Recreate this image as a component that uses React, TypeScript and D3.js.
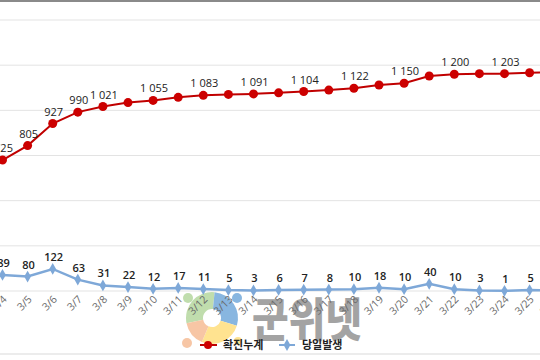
import React from "react";
import * as d3 from "d3";

const dates = ["3/4","3/5","3/6","3/7","3/8","3/9","3/10","3/11","3/12","3/13","3/14","3/15","3/16","3/17","3/18","3/19","3/20","3/21","3/22","3/23","3/24","3/25","3/26"];
const cumulative = [725,805,927,990,1021,1043,1055,1072,1083,1088,1091,1097,1104,1112,1122,1140,1150,1190,1200,1203,1203,1208,1212];
const daily = [89,80,122,63,31,22,12,17,11,5,3,6,7,8,10,18,10,40,10,3,1,5,3];
const cumLabelIdx = [0,1,2,3,4,6,8,10,12,14,16,18,20];
const yTicks = [0,250,500,750,1000,1250,1500];

const fmt = (v: number) => {
  const s = String(v);
  return s.length > 3 ? s.slice(0, s.length - 3) + " " + s.slice(-3) : s;
};

export default function App() {
  const W = 540, H = 360;
  const x = d3.scaleLinear().domain([0, 21]).range([2.5, 529.6]);
  const y = d3.scaleLinear().domain([0, 1500]).range([291, 20]);
  const line = d3.line<number>().x((_, i) => x(i)).y((d) => y(d));
  const redC = "#c00000";
  const blueC = "#7ea8d8";
  const diamond = d3.symbol().type(d3.symbolDiamond).size(40)() as string;
  const arc = d3.arc<any>();
  const cx = 212, cy = 318;
  const petals = [
    { s: -Math.PI / 2 - 0.2, e: 0.1, c: "#a9d18e" },
    { s: 0.1, e: Math.PI / 2 + 0.3, c: "#5b9bd5" },
    { s: Math.PI / 2 + 0.3, e: Math.PI + 0.4, c: "#ffd966" },
    { s: Math.PI + 0.4, e: 1.5 * Math.PI - 0.2, c: "#f4b183" },
  ];
  return (
    <svg width={W} height={H} style={{ position: "absolute", left: 0, top: 0, background: "#fff" }}>
      <rect x={0} y={0} width={W} height={H} fill="#fff" />
      <line x1={0} x2={W} y1={1} y2={1} stroke="#8a8a8a" strokeWidth={2} />
      <line x1={0} x2={W} y1={354} y2={354} stroke="#d9d9d9" strokeWidth={1} />
      {yTicks.map((t) => (
        <line key={t} x1={0} x2={W} y1={y(t)} y2={y(t)} stroke="#e3e3e3" strokeWidth={1} />
      ))}
      {/* watermark */}
      <g opacity={0.72}>
        {petals.map((p, i) => (
          <path key={i} transform={`translate(${cx},${cy})`}
            d={arc({ innerRadius: 9, outerRadius: 26, startAngle: p.s, endAngle: p.e }) as string}
            fill={p.c} />
        ))}
        <circle cx={188} cy={298} r={5} fill="#a9d18e" />
        <circle cx={237} cy={298} r={5} fill="#5b9bd5" />
        <circle cx={238} cy={341} r={4} fill="#ffd966" />
        <circle cx={187} cy={343} r={5} fill="#f4b183" />
        <text x={252} y={336} fontFamily="'Noto Sans CJK KR', sans-serif" fontWeight={900} fontSize={46}
          fill="#808080" textLength={110} lengthAdjust="spacingAndGlyphs">군위넷</text>
      </g>
      {dates.map((d, i) => (
        <text key={d} transform={`translate(${x(i) + 5},${300}) rotate(-45)`} textAnchor="end"
          fontFamily="'Open Sans', 'Noto Sans', sans-serif" fontSize={10.5} fill="#6a6a6a">{d}</text>
      ))}
      <path d={line(daily) as string} fill="none" stroke={blueC} strokeWidth={2.5} />
      {daily.map((v, i) => (
        <path key={i} d={diamond} transform={`translate(${x(i)},${y(v)})`} fill={blueC} />
      ))}
      <path d={line(cumulative) as string} fill="none" stroke={redC} strokeWidth={2} />
      {cumulative.map((v, i) => (
        <circle key={i} cx={x(i)} cy={y(v)} r={4.5} fill="#cc0000" />
      ))}
      {cumLabelIdx.map((i) => (
        <text key={i} x={x(i) + 1} y={y(cumulative[i]) - 8} textAnchor="middle"
          fontFamily="'Open Sans', 'Noto Sans', sans-serif" fontSize={11} fill="#222">{fmt(cumulative[i])}</text>
      ))}
      {daily.map((v, i) => (
        <text key={i} x={x(i) + 1} y={y(v) - 8} textAnchor="middle"
          fontFamily="'Open Sans', 'Noto Sans', sans-serif" fontSize={11} fontWeight={600} fill="#222">{v}</text>
      ))}
      {/* legend */}
      <line x1={200} x2={217} y1={345} y2={345} stroke={redC} strokeWidth={2} />
      <circle cx={208} cy={345} r={4} fill="#cc0000" />
      <text x={223} y={349} fontFamily="'Noto Sans CJK KR', sans-serif" fontSize={11} fontWeight={600} fill="#222">확진누계</text>
      <line x1={279} x2={295} y1={345} y2={345} stroke={blueC} strokeWidth={2} />
      <path d={diamond} transform={`translate(287,345)`} fill={blueC} />
      <text x={302} y={349} fontFamily="'Noto Sans CJK KR', sans-serif" fontSize={11} fontWeight={600} fill="#222">당일발생</text>
    </svg>
  );
}
